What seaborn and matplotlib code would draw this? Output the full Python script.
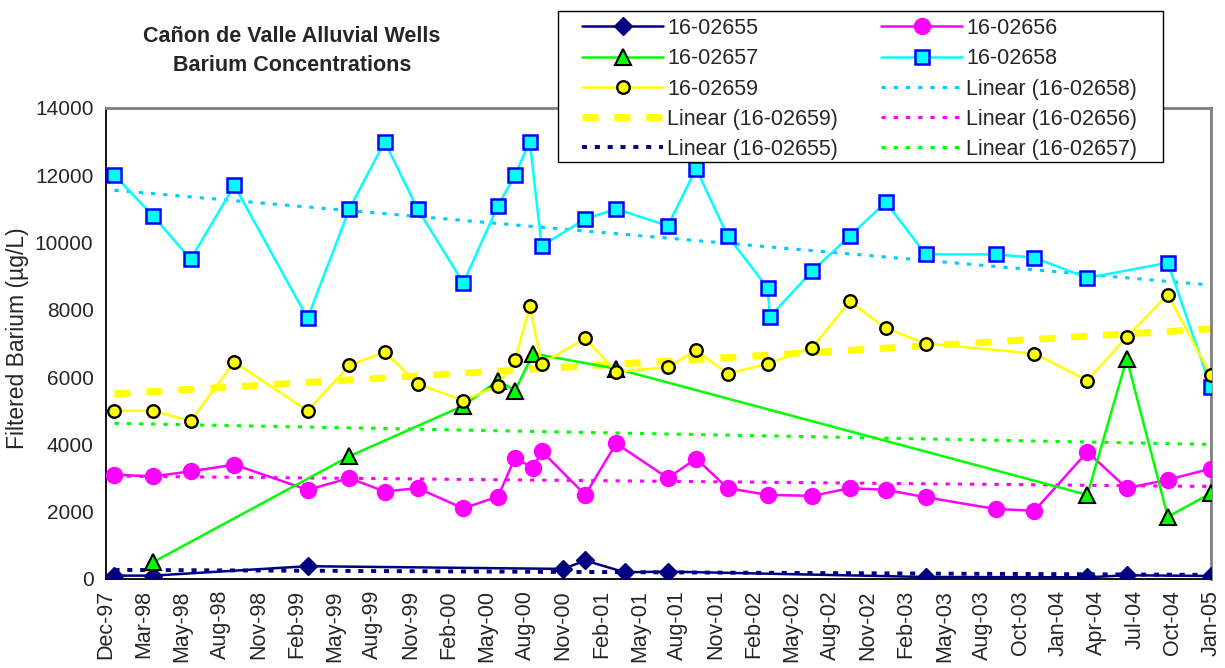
import numpy as np
import pandas as pd
import matplotlib
matplotlib.use("Agg")
import matplotlib.pyplot as plt
import matplotlib.dates as mdates
from matplotlib.patches import Rectangle
import seaborn as sns

nan = np.nan

# sampling dates (shared by all wells, blanks = not sampled)
dates = ["1997-12-21", "1998-03-22", "1998-06-19", "1998-09-30", "1999-03-22",
         "1999-06-29", "1999-09-20", "1999-12-07", "2000-03-24", "2000-06-14",
         "2000-07-24", "2000-08-28", "2000-09-05", "2000-09-25", "2000-11-15",
         "2001-01-06", "2001-03-20", "2001-04-09", "2001-07-20", "2001-09-25",
         "2001-12-08", "2002-03-13", "2002-03-18", "2002-06-26", "2002-09-23",
         "2002-12-17", "2003-03-21", "2003-09-02", "2003-12-03", "2004-04-06",
         "2004-07-08", "2004-10-13", "2005-01-23"]

w16_02655 = [100, 100, nan, nan, 380, nan, nan, nan, nan, nan, nan, nan, nan, nan, 300,
             550, nan, 200, 220, nan, nan, nan, nan, nan, nan, nan, 60, nan, nan, 50,
             110, nan, 90]
w16_02656 = [3100, 3050, 3200, 3400, 2650, 3000, 2600, 2700, 2100, 2450, 3600, nan, 3300,
             3800, nan, 2500, 4030, nan, 3000, 3580, 2700, 2500, nan, 2470, 2700, 2650,
             2430, 2080, 2030, 3780, 2700, 2950, 3280]
w16_02657 = [nan, 500, nan, nan, nan, 3650, nan, nan, 5150, 5900, 5600, nan, 6700, nan,
             nan, nan, 6250, nan, nan, nan, nan, nan, nan, nan, nan, nan, nan, nan, nan,
             2500, 6550, 1850, 2550]
w16_02658 = [12000, 10800, 9500, 11700, 7750, 11000, 13000, 11000, 8800, 11100, 12000,
             13000, nan, 9900, nan, 10700, 11000, nan, 10500, 12200, 10200, 8650, 7800,
             9150, 10200, 11200, 9650, 9650, 9550, 8950, nan, 9400, 5700]
w16_02659 = [5000, 5000, 4700, 6450, 5000, 6350, 6750, 5800, 5300, 5750, 6500, 8100, nan,
             6400, nan, 7150, 6150, nan, 6300, 6800, 6100, 6400, nan, 6880, 8250, 7450,
             7000, nan, 6700, 5900, 7200, 8450, 6050]

wells = ["16-02655", "16-02656", "16-02657", "16-02658", "16-02659"]
values = [w16_02655, w16_02656, w16_02657, w16_02658, w16_02659]

# order in which Excel listed the trendlines
trend_order = ["16-02658", "16-02659", "16-02656", "16-02655", "16-02657"]

df = pd.DataFrame({"date": pd.to_datetime(dates)})
for name, vals in zip(wells, values):
    df[name] = vals

sns.set_style("white")
plt.rcParams["font.family"] = ["Liberation Sans", "DejaVu Sans"]

styles = {
    "16-02655": dict(color="#000080", marker="D", markersize=9.5, markerfacecolor="#000080",
                     markeredgecolor="#000080", markeredgewidth=1),
    "16-02656": dict(color="#FF00FF", marker="o", markersize=11.5, markerfacecolor="#FF00FF",
                     markeredgecolor="#FF00FF", markeredgewidth=1),
    "16-02657": dict(color="#00FF00", marker="^", markersize=11, markerfacecolor="#00FF00",
                     markeredgecolor="black", markeredgewidth=1.5),
    "16-02658": dict(color="#00FFFF", marker="s", markersize=10, markerfacecolor="#00FFFF",
                     markeredgecolor="#0000FF", markeredgewidth=1.8),
    "16-02659": dict(color="#FFFF00", marker="o", markersize=9, markerfacecolor="#FFFF00",
                     markeredgecolor="black", markeredgewidth=1.7),
}
trend_styles = {
    "16-02658": dict(color="#00CCFF", linewidth=2.2, linestyle=(0, (1.4, 2.6))),
    "16-02659": dict(color="#FFFF00", linewidth=5, linestyle=(0, (2.3, 2.3))),
    "16-02656": dict(color="#FF00FF", linewidth=2.2, linestyle=(0, (1.4, 2.6))),
    "16-02655": dict(color="#000080", linewidth=2.8, linestyle=(0, (1.3, 2.0))),
    "16-02657": dict(color="#00FF00", linewidth=2.2, linestyle=(0, (1.4, 2.6))),
}

W, H = 1225, 668
fig, ax = plt.subplots(figsize=(W/100, H/100), dpi=100)
fig.subplots_adjust(left=106/W, right=1211/W, top=1-108/H, bottom=1-579/H)

for name in wells:
    d = df[["date", name]].dropna()
    sns.lineplot(x=d["date"], y=d[name], ax=ax, linewidth=1.8, label=name,
                 estimator=None, sort=False, zorder=3, **styles[name])

# linear trendlines over the whole date range (drawn under the markers)
days = (df["date"] - df["date"].iloc[0]).dt.days.to_numpy()
ends = df["date"].iloc[[0, -1]]
for name in trend_order:
    mask = df[name].notna().to_numpy()
    slope, icpt = np.polyfit(days[mask], df[name].to_numpy()[mask], 1)
    tr = pd.DataFrame({"date": ends, "v": icpt + slope * days[[0, -1]]})
    sns.lineplot(data=tr, x="date", y="v", ax=ax, label=f"Linear ({name})",
                 estimator=None, sort=False, zorder=2.5, **trend_styles[name])

# axes
x0 = pd.Timestamp("1997-12-01")
ticks = pd.date_range(x0, periods=30, freq="90D")
ax.set_xlim(ticks[0], ticks[-1])
ax.set_xticks(ticks)
ax.xaxis.set_major_formatter(mdates.DateFormatter("%b-%y"))
ax.set_ylim(0, 14000)
ax.set_yticks(np.arange(0, 14001, 2000))
ax.tick_params(axis="x", labelrotation=90, labelsize=15.5, length=6, width=1, direction="out", pad=2)
ax.tick_params(axis="y", labelsize=15, length=6, width=1, direction="out", pad=3)
ax.set_xlabel("")
ax.set_ylabel("")
for s in ["left", "bottom"]:
    ax.spines[s].set_color("black")
    ax.spines[s].set_linewidth(1.3)
for s in ["top", "right"]:
    ax.spines[s].set_color("#808080")
    ax.spines[s].set_linewidth(2)

fig.text(18/W, 1-338/H, "Filtered Barium (µg/L)", rotation=90, ha="center", va="center",
         fontsize=16.5)
fig.text(292/W, 1-51/H, "Cañon de Valle Alluvial Wells\nBarium Concentrations",
         ha="center", va="center", fontsize=15.5, fontweight="bold", linespacing=1.5)

# legend box (Excel style, drawn separately so the padding can be wider than tall)
fig.patches.append(Rectangle((558/W, 1-162/H), 605/W, 151/H, transform=fig.transFigure,
                             facecolor="white", edgecolor="black", linewidth=1, zorder=9))

# legend, filled column-wise to match Excel's row-wise layout
h, l = ax.get_legend_handles_labels()
ax.get_legend().remove()
lookup = dict(zip(l, h))
order = ["16-02655", "16-02657", "16-02659", "Linear (16-02659)", "Linear (16-02655)",
         "16-02656", "16-02658", "Linear (16-02658)", "Linear (16-02656)", "Linear (16-02657)"]
leg = fig.legend([lookup[k] for k in order], order, ncol=2, loc="upper left",
                 bbox_to_anchor=(582/W, 1-18/H), bbox_transform=fig.transFigure,
                 fontsize=15.5, frameon=False, handlelength=3.77, handletextpad=0.19,
                 columnspacing=2.0, labelspacing=0.43, borderaxespad=0, borderpad=0)
leg.set_zorder(10)

plt.savefig("out.png", dpi=100)
plt.close()
